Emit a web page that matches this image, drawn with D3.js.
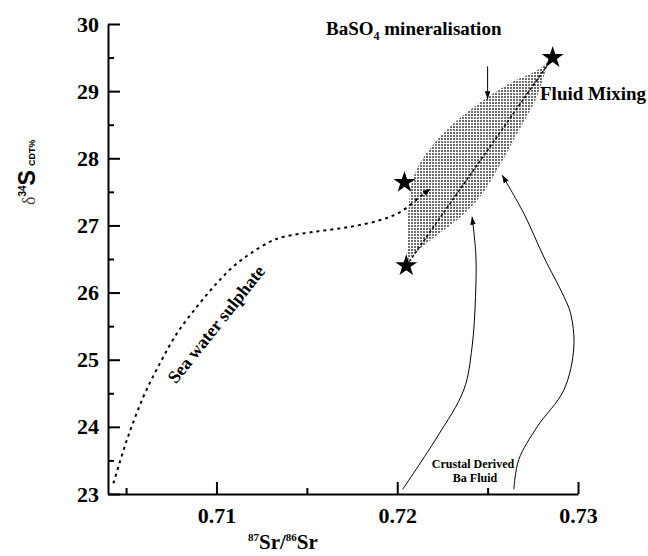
<!DOCTYPE html>
<html>
<head>
<meta charset="utf-8">
<script src="https://d3js.org/d3.v7.min.js"></script>
<style>
  body { margin: 0; background: #fff; }
  text { font-family: "Liberation Serif", "Times New Roman", serif; font-weight: bold; fill: #000; }
</style>
</head>
<body>
<div id="chart"></div>
<script>
// axis ticks
const xMajor = [0.71, 0.72, 0.73];
const xMinor = [0.705, 0.715, 0.725];
const yMajor = [23, 24, 25, 26, 27, 28, 29, 30];
const yMinor = [23.5, 24.5, 25.5, 26.5, 27.5, 28.5, 29.5];

// end members (stars)
const starSr = [0.7204, 0.7205, 0.7286];
const starS  = [27.64, 26.40, 29.50];

// sea water sulphate trend
const seaSr = [0.7043, 0.70504, 0.70596, 0.70688, 0.70781, 0.70892, 0.71002, 0.71094, 0.71187, 0.71298, 0.71371, 0.71556, 0.71741, 0.71907, 0.72017, 0.72128, 0.72184];
const seaS  = [23.16, 23.80, 24.45, 24.95, 25.39, 25.79, 26.14, 26.39, 26.58, 26.76, 26.83, 26.91, 26.98, 27.08, 27.20, 27.43, 27.55];

// mixing envelope (left edge upward, then right edge downward)
const envSr = [0.72044, 0.72054, 0.72063, 0.72091, 0.72174, 0.72313, 0.72479, 0.72626, 0.72774, 0.72848,
               0.72829, 0.72765, 0.72664, 0.72562, 0.72460, 0.72331, 0.72184, 0.72073];
const envS  = [26.43, 26.63, 27.28, 27.73, 28.12, 28.52, 28.87, 29.12, 29.31, 29.46,
               29.36, 28.87, 28.37, 27.87, 27.43, 27.08, 26.78, 26.53];

// crustal derived Ba fluid paths
const crust1Sr = [0.72030, 0.72221, 0.72368, 0.72414, 0.72433, 0.72435, 0.72414];
const crust1S  = [23.07, 23.85, 24.55, 25.19, 25.94, 26.56, 27.13];
const crust2Sr = [0.72645, 0.72672, 0.72774, 0.72922, 0.72977, 0.72959, 0.72922, 0.72811, 0.72700, 0.72580];
const crust2S  = [23.07, 23.51, 24.00, 24.55, 25.19, 25.69, 25.94, 26.53, 27.18, 27.75];

// BaSO4 pointer
const baArrowSr = [0.725, 0.725];
const baArrowS  = [29.37, 28.88];

const width = 648, height = 556;
const svg = d3.select("#chart").append("svg")
    .attr("width", width).attr("height", height);

const x = d3.scaleLinear().domain([0.704, 0.73]).range([108, 578]);
const y = d3.scaleLinear().domain([23, 30]).range([494, 24]);

const defs = svg.append("defs");
const pat = defs.append("pattern").attr("id", "grid")
    .attr("patternUnits", "userSpaceOnUse").attr("width", 3).attr("height", 3);
pat.append("rect").attr("width", 3).attr("height", 3).attr("fill", "#fff");
pat.append("rect").attr("width", 2).attr("height", 2).attr("fill", "#6e6e6e");

defs.append("marker").attr("id", "head")
    .attr("viewBox", "0 -5 10 10").attr("refX", 10).attr("refY", 0)
    .attr("markerWidth", 8).attr("markerHeight", 8)
    .attr("markerUnits", "userSpaceOnUse").attr("orient", "auto")
  .append("path").attr("d", "M0,-3.5L10,0L0,3.5Z").attr("fill", "#000");

const zip = (a, b) => a.map((v, i) => [v, b[i]]);
const line = d3.line().x(d => x(d[0])).y(d => y(d[1])).curve(d3.curveCatmullRom);

// envelope
svg.append("path")
    .attr("d", line(zip(envSr, envS)) + "Z")
    .attr("fill", "url(#grid)").attr("stroke", "none");

// mixing line
svg.append("line")
    .attr("x1", x(starSr[1])).attr("y1", y(starS[1]))
    .attr("x2", x(starSr[2])).attr("y2", y(starS[2]))
    .attr("stroke", "#111").attr("stroke-width", 1.6).attr("stroke-dasharray", "3,2");

// sea water curve
svg.append("path")
    .attr("d", line(zip(seaSr, seaS)))
    .attr("fill", "none").attr("stroke", "#000").attr("stroke-width", 2)
    .attr("stroke-dasharray", "3,4").attr("marker-end", "url(#head)");

// crustal curves
[[crust1Sr, crust1S], [crust2Sr, crust2S]].forEach(([a, b]) => {
  svg.append("path")
      .attr("d", line(zip(a, b)))
      .attr("fill", "none").attr("stroke", "#000").attr("stroke-width", 1)
      .attr("marker-end", "url(#head)");
});

// BaSO4 arrow
svg.append("line")
    .attr("x1", x(baArrowSr[0])).attr("y1", y(baArrowS[0]))
    .attr("x2", x(baArrowSr[1])).attr("y2", y(baArrowS[1]))
    .attr("stroke", "#000").attr("stroke-width", 1)
    .attr("marker-end", "url(#head)");

// stars
svg.append("g").selectAll("path")
    .data(zip(starSr, starS))
    .join("path")
    .attr("transform", d => `translate(${x(d[0])},${y(d[1])})`)
    .attr("d", d3.symbol(d3.symbolStar, 150))
    .attr("fill", "#000");

// axes
const gx = svg.append("g").attr("transform", `translate(0,${y(23)})`);
gx.call(d3.axisBottom(x).tickValues(xMajor).tickSize(-12).tickSizeOuter(0).tickPadding(13)
    .tickFormat(d3.format(".2f")));
gx.append("g").call(d3.axisBottom(x).tickValues(xMinor).tickSize(-6).tickFormat(""))
    .select(".domain").remove();

const gy = svg.append("g").attr("transform", `translate(${x(0.704)},0)`);
gy.call(d3.axisLeft(y).tickValues(yMajor).tickSize(-12).tickSizeOuter(0).tickPadding(9)
    .tickFormat(d3.format("d")));
gy.append("g").call(d3.axisLeft(y).tickValues(yMinor).tickSize(-6).tickFormat(""))
    .select(".domain").remove();

svg.selectAll(".domain").attr("stroke", "#000").attr("stroke-width", 2);
svg.selectAll(".tick line").attr("stroke", "#000").attr("stroke-width", 2);
svg.selectAll(".tick text")
    .attr("font-family", "Liberation Serif, serif").attr("font-weight", "bold")
    .attr("font-size", 22).attr("fill", "#000");

// axis titles
const xt = svg.append("text").attr("x", 248).attr("y", 549).attr("font-size", 21);
xt.append("tspan").attr("font-size", 11).attr("dy", -8).text("87");
xt.append("tspan").attr("dy", 8).text("Sr/");
xt.append("tspan").attr("font-size", 11).attr("dy", -8).text("86");
xt.append("tspan").attr("dy", 8).text("Sr");

const yt = svg.append("text").attr("transform", "translate(35,205) rotate(-90)");
yt.append("tspan").attr("font-family", "Liberation Serif, serif").attr("font-weight", "normal")
    .attr("font-size", 18).attr("fill", "#444").text("δ");
yt.append("tspan").attr("font-family", "Liberation Sans, Arial, sans-serif")
    .attr("font-size", 10).attr("dy", -9).text("34");
yt.append("tspan").attr("font-family", "Liberation Sans, Arial, sans-serif")
    .attr("font-size", 23).attr("dy", 9).text("S");
yt.append("tspan").attr("font-family", "Liberation Sans, Arial, sans-serif")
    .attr("font-size", 9).attr("dx", 4).text("CDT%");

// annotations
const ba = svg.append("text").attr("x", 326).attr("y", 35).attr("font-size", 19);
ba.append("tspan").text("BaSO");
ba.append("tspan").attr("font-size", 12).attr("dy", 5).text("4");
ba.append("tspan").attr("dy", -5).text(" mineralisation");

svg.append("text").attr("x", 540).attr("y", 100).attr("font-size", 19).text("Fluid Mixing");

svg.append("text")
    .attr("transform", "translate(221,328) rotate(-51.5)")
    .attr("text-anchor", "middle").attr("font-size", 18)
    .text("Sea water sulphate");

svg.append("text").attr("x", 473).attr("y", 468).attr("text-anchor", "middle")
    .attr("font-size", 12).attr("fill", "#222").text("Crustal Derived");
svg.append("text").attr("x", 475).attr("y", 482).attr("text-anchor", "middle")
    .attr("font-size", 12).attr("fill", "#222").text("Ba Fluid");
</script>
</body>
</html>
